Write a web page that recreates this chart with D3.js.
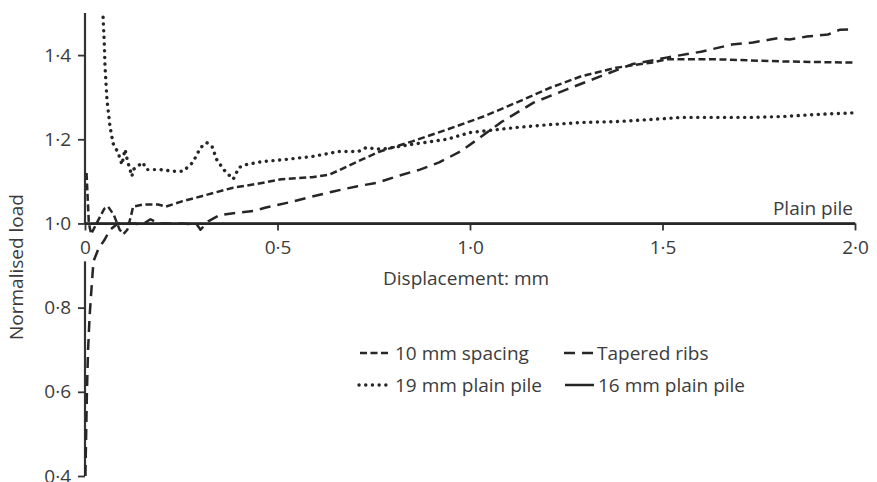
<!DOCTYPE html>
<html>
<head>
<meta charset="utf-8">
<script src="https://cdn.jsdelivr.net/npm/d3@7"></script>
<style>
  body { margin: 0; background: #fff; }
  text { font-family: "Open Sans", "Noto Sans", sans-serif; fill: #3c3c3c; }
</style>
</head>
<body>
<script>
// displacement (mm), normalised load
var spacing10 = [[0.004,1.12],[0.01,1.0],[0.016,0.975],[0.03,1.0],[0.05,1.035],[0.06,1.04],[0.075,1.02],[0.09,0.985],[0.1,0.975],[0.11,0.985],[0.12,1.02],[0.125,1.04],[0.15,1.045],[0.19,1.045],[0.21,1.04],[0.25,1.052],[0.3,1.064],[0.34,1.074],[0.385,1.085],[0.44,1.093],[0.51,1.105],[0.59,1.11],[0.635,1.116],[0.68,1.135],[0.72,1.152],[0.766,1.171],[0.85,1.195],[0.94,1.223],[1.035,1.254],[1.12,1.287],[1.21,1.323],[1.29,1.35],[1.38,1.37],[1.47,1.382],[1.51,1.39],[1.64,1.39],[1.81,1.385],[2.0,1.382]];

var taperedRibs = [[0.001,0.4],[0.003,0.5],[0.005,0.6],[0.008,0.7],[0.012,0.78],[0.018,0.86],[0.022,0.91],[0.035,0.94],[0.05,0.96],[0.065,0.985],[0.085,1.0],[0.12,1.0],[0.15,0.998],[0.17,1.01],[0.19,1.0],[0.25,1.0],[0.29,0.998],[0.3,0.985],[0.32,1.005],[0.35,1.02],[0.4,1.026],[0.44,1.03],[0.47,1.038],[0.53,1.05],[0.59,1.064],[0.645,1.076],[0.705,1.088],[0.76,1.097],[0.81,1.112],[0.87,1.128],[0.92,1.145],[0.975,1.171],[1.02,1.2],[1.08,1.24],[1.165,1.287],[1.25,1.318],[1.34,1.35],[1.42,1.378],[1.51,1.394],[1.6,1.408],[1.68,1.425],[1.735,1.43],[1.78,1.437],[1.8,1.44],[1.83,1.437],[1.875,1.444],[1.93,1.449],[1.96,1.46],[2.0,1.461]];

var plain19 = [[0.047,1.49],[0.05,1.43],[0.052,1.373],[0.057,1.295],[0.065,1.23],[0.073,1.19],[0.086,1.168],[0.096,1.14],[0.104,1.176],[0.11,1.15],[0.122,1.112],[0.125,1.128],[0.15,1.145],[0.16,1.128],[0.195,1.128],[0.23,1.124],[0.255,1.124],[0.28,1.145],[0.3,1.18],[0.316,1.192],[0.33,1.183],[0.342,1.152],[0.36,1.128],[0.385,1.105],[0.4,1.133],[0.42,1.14],[0.46,1.147],[0.52,1.152],[0.59,1.159],[0.66,1.171],[0.71,1.171],[0.73,1.18],[0.77,1.176],[0.85,1.188],[0.94,1.2],[1.0,1.216],[1.12,1.228],[1.21,1.235],[1.29,1.24],[1.38,1.242],[1.47,1.247],[1.55,1.252],[1.73,1.252],[1.81,1.254],[1.9,1.259],[2.0,1.263]];

var plain16 = [[0,1.0],[2.0,1.0]];

var xTicks = [0, 0.5, 1.0, 1.5, 2.0];
var yTicks = [0.4, 0.6, 0.8, 1.0, 1.2, 1.4];

var series = [
  { name: "10 mm spacing", data: spacing10, dash: "7,3.5", width: 2.5 },
  { name: "Tapered ribs", data: taperedRibs, dash: "11,7", width: 2.5 },
  { name: "19 mm plain pile", data: plain19, dash: "0.1,6.6", width: 3.4 },
  { name: "16 mm plain pile", data: plain16, dash: null, width: 2.5 }
];

var svg = d3.select("body").append("svg")
  .attr("width", 877)
  .attr("height", 482);

var x = d3.scaleLinear().domain([0, 2]).range([85, 855]);
var y = d3.scaleLinear().domain([0.4, 1.5]).range([476, 13]);

function fmt(d) { return d === 0 ? "0" : d3.format(".1f")(d).replace(".", "\u00b7"); }

// x axis sits on load = 1.0
var xAxis = svg.append("g")
  .attr("transform", "translate(0," + y(1.0) + ")")
  .call(d3.axisBottom(x).tickValues(xTicks).tickFormat(fmt).tickSize(7).tickSizeOuter(0).tickPadding(10));
xAxis.select(".domain").attr("stroke", "#333").attr("stroke-width", 2.2);
xAxis.selectAll(".tick line").attr("stroke", "#333").attr("stroke-width", 1.8);
xAxis.selectAll("text").style("font-size", "19px").attr("fill", "#3c3c3c");

// y axis, broken round the "0" label
var yAxis = svg.append("g")
  .attr("transform", "translate(" + x(0) + ",0)")
  .call(d3.axisLeft(y).tickValues(yTicks).tickFormat(fmt).tickSize(7).tickPadding(7));
yAxis.select(".domain").remove();
yAxis.selectAll(".tick line").attr("stroke", "#333").attr("stroke-width", 1.8);
yAxis.selectAll("text").style("font-size", "19px").attr("fill", "#3c3c3c");

[[1.0, 1.5], [0.4, 0.91]].forEach(function (seg) {
  yAxis.append("line")
    .attr("x1", 0).attr("x2", 0)
    .attr("y1", y(seg[0])).attr("y2", y(seg[1]))
    .attr("stroke", "#333")
    .attr("stroke-width", 2.2);
});

var line = d3.line()
  .x(function (d) { return x(d[0]); })
  .y(function (d) { return y(d[1]); });

svg.append("g")
  .selectAll("path")
  .data(series)
  .enter().append("path")
  .attr("fill", "none")
  .attr("stroke", "#262626")
  .attr("stroke-width", function (d) { return d.width; })
  .attr("stroke-linecap", function (d, i) { return i === 2 ? "round" : "butt"; })
  .attr("stroke-linejoin", "round")
  .attr("stroke-dasharray", function (d) { return d.dash; })
  .attr("d", function (d) { return line(d.data); });

svg.append("text")
  .attr("x", 853)
  .attr("y", 215)
  .attr("text-anchor", "end")
  .style("font-size", "19px")
  .text("Plain pile");

svg.append("text")
  .attr("x", 383)
  .attr("y", 285)
  .style("font-size", "19px")
  .text("Displacement: mm");

svg.append("text")
  .attr("transform", "translate(23,267) rotate(-90)")
  .attr("text-anchor", "middle")
  .style("font-size", "19px")
  .text("Normalised load");

// legend, two columns
var legendPos = [[360, 353], [564, 353], [359, 385], [565, 385]];
var legend = svg.append("g")
  .selectAll("g")
  .data(series)
  .enter().append("g")
  .attr("transform", function (d, i) { return "translate(" + legendPos[i][0] + "," + legendPos[i][1] + ")"; });

legend.append("line")
  .attr("x1", 0).attr("x2", function (d, i) { return i === 2 ? 33 : 29; })
  .attr("y1", 0).attr("y2", 0)
  .attr("stroke", "#262626")
  .attr("stroke-width", function (d) { return d.width; })
  .attr("stroke-linecap", function (d, i) { return i === 2 ? "round" : "butt"; })
  .attr("stroke-dasharray", function (d) { return d.dash; });

legend.append("text")
  .attr("x", function (d, i) { return [35, 33, 36, 33][i]; })
  .attr("y", 0)
  .attr("dy", "0.36em")
  .style("font-size", "19px")
  .text(function (d) { return d.name; });
</script>
</body>
</html>
